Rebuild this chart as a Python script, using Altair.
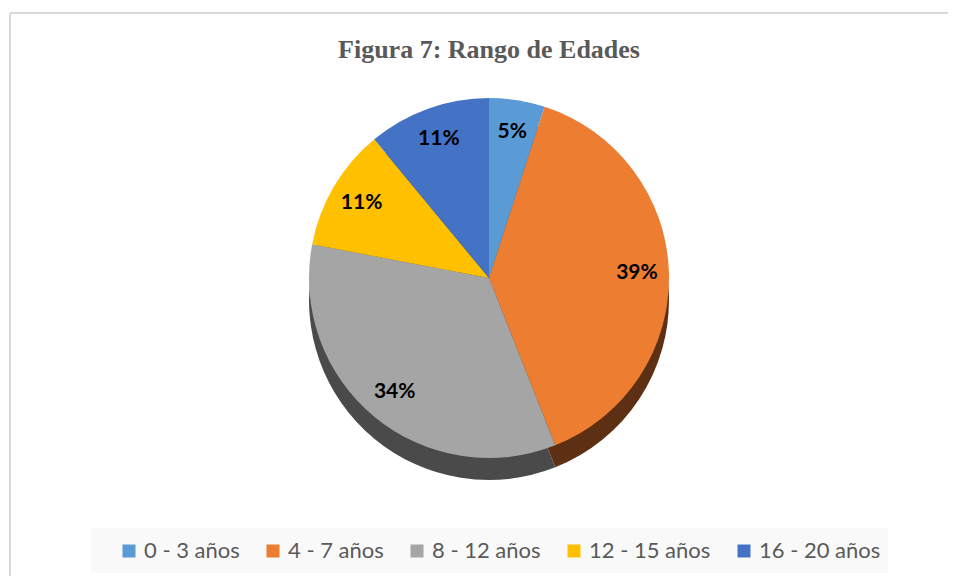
import altair as alt
import pandas as pd

# ---- data ----
categories = ["0 - 3 años", "4 - 7 años", "8 - 12 años", "12 - 15 años", "16 - 20 años"]
percent = [5, 39, 34, 11, 11]
colors = ["#5B9BD5", "#ED7D31", "#A5A5A5", "#FFC000", "#4472C4"]
side_colors = ["#34597c", "#5e3013", "#4a4a4a", "#7f6000", "#27416f"]

df = pd.DataFrame({"rango": categories, "pct": percent, "idx": list(range(len(categories)))})
df["label"] = df["pct"].astype(str) + "%"

W, H = 940, 563
CX, CY = 481, 265
R = 180
DEPTH = 22

theta = alt.Theta("pct:Q", stack=True)
order = alt.Order("idx:Q", sort="ascending")

one = alt.Chart(pd.DataFrame({"a": [0]}))

legend_bg = one.mark_rect(color="#f9f9f9").encode(
    x=alt.value(83), x2=alt.value(880), y=alt.value(515), y2=alt.value(560)
)
frame_left = one.mark_rule(color="#d9d9d9", strokeWidth=2).encode(
    x=alt.value(2), y=alt.value(0), y2=alt.value(H)
)
frame_top = one.mark_rule(color="#d9d9d9", strokeWidth=2).encode(
    x=alt.value(2), x2=alt.value(W), y=alt.value(0)
)

base = alt.Chart(df)

side = base.mark_arc(radius=R).encode(
    theta=theta,
    order=order,
    color=alt.Color("rango:N", scale=alt.Scale(domain=categories, range=side_colors), legend=None),
    x=alt.value(CX),
    y=alt.value(CY + DEPTH),
)

top = base.mark_arc(radius=R).encode(
    theta=theta,
    order=order,
    color=alt.Color(
        "rango:N",
        scale=alt.Scale(domain=categories, range=colors),
        legend=alt.Legend(
            orient="none",
            legendX=110,
            legendY=527,
            direction="horizontal",
            columns=5,
            title=None,
            symbolType="square",
            symbolSize=169,
            symbolStrokeWidth=0,
            labelFont="Lato",
            labelFontSize=22,
            labelColor="#595959",
            columnPadding=22,
            labelOffset=4,
        ),
    ),
    x=alt.value(CX),
    y=alt.value(CY),
)

labels = base.mark_text(
    radius=148, font="Lato", fontWeight="bold", fontSize=21, color="black"
).encode(
    theta=theta,
    order=order,
    text="label:N",
    x=alt.value(CX),
    y=alt.value(CY),
)

chart = (
    alt.layer(legend_bg, frame_left, frame_top, side, top, labels)
    .resolve_scale(color="independent")
    .properties(
        width=W,
        height=H,
        autosize="none",
        padding={"top": 5, "left": 0, "right": 0, "bottom": 0},
        title=alt.TitleParams(
            "Figura 7: Rango de Edades",
            font="Liberation Serif",
            fontSize=26,
            fontWeight="bold",
            color="#595959",
            anchor="middle",
            frame="group",
            dx=11,
            offset=-51,
        ),
    )
    .configure_view(stroke="transparent")
)

chart.save("out.html", embed_options={"renderer": "svg", "actions": False})
